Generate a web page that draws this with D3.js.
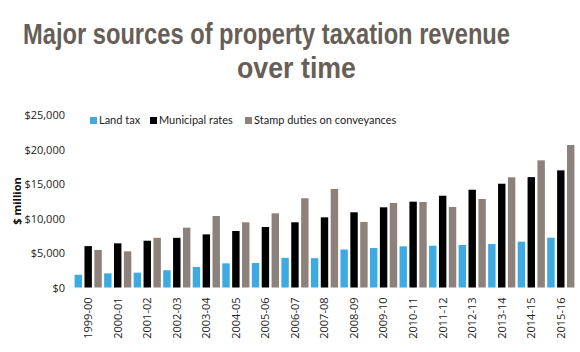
<!DOCTYPE html>
<html>
<head>
<meta charset="utf-8">
<script src="https://cdn.jsdelivr.net/npm/d3@7"></script>
<style>
  body { margin: 0; background: #fff; }
  svg { display: block; }
</style>
</head>
<body>
<div class="chart-container"></div>
<script>
// data ($ million)
const years = ["1999-00", "2000-01", "2001-02", "2002-03", "2003-04", "2004-05", "2005-06", "2006-07", "2007-08",
    "2008-09", "2009-10", "2010-11", "2011-12", "2012-13", "2013-14", "2014-15", "2015-16"];
const seriesNames = ["Land tax", "Municipal rates", "Stamp duties on conveyances"];
const landTax = [1850, 2050, 2150, 2500, 2970, 3500, 3550, 4300, 4250, 5500, 5720, 5970, 6060, 6160, 6300, 6640, 7220];
const municipalRates = [6000, 6400, 6780, 7200, 7700, 8190, 8770, 9450, 10170, 10900, 11620, 12440, 13300, 14170, 15040, 16000, 16980];
const stampDuties = [5430, 5240, 7200, 8670, 10360, 9450, 10750, 12930, 14280, 9500, 12250, 12390, 11670, 12830, 15970, 18430, 20650];
const yTicks = [0, 5000, 10000, 15000, 20000, 25000];

const seriesValues = [landTax, municipalRates, stampDuties];
const colors = ["#3eaae2", "#000000", "#8d827b"];

const width = 580;
const height = 352;
const margin = {top: 115, right: 5, bottom: 64, left: 74};

const svg = d3.select(".chart-container").append("svg")
    .attr("width", width)
    .attr("height", height)
    .attr("viewBox", [0, 0, width, height]);

// title: no condensed face installed, so a tall-scaled bold face stands in
const titleLines = [
    {text: "Major sources of property taxation revenue", x: 23, y: 44, w: 487},
    {text: "over time", x: 237, y: 78, w: 119}
];
svg.append("g")
    .selectAll("text")
    .data(titleLines)
    .join("text")
    .attr("transform", d => `translate(${d.x},${d.y}) scale(1,1.25)`)
    .attr("textLength", d => d.w)
    .attr("lengthAdjust", "spacingAndGlyphs")
    .attr("fill", "#675e58")
    .style("font-family", "'Liberation Sans', Arial, sans-serif")
    .style("font-weight", "bold")
    .style("font-size", "24px")
    .text(d => d.text);

const x = d3.scaleBand()
    .domain(years)
    .range([margin.left, width - margin.right])
    .paddingInner(0.08)
    .paddingOuter(0.02);

const xInner = d3.scaleBand()
    .domain(seriesNames)
    .range([0, x.bandwidth()])
    .paddingInner(0.25);

const y = d3.scaleLinear()
    .domain([0, 25000])
    .range([height - margin.bottom - 0.5, margin.top]);

const fmt = d3.format(",");

// y axis
const yAxis = svg.append("g")
    .attr("transform", `translate(${margin.left - 9},0)`)
    .call(d3.axisLeft(y).tickValues(yTicks).tickSize(0).tickPadding(0).tickFormat(d => "$" + fmt(d)));
yAxis.select(".domain").remove();
yAxis.selectAll("text")
    .attr("fill", "#222")
    .style("font-family", "'Open Sans', sans-serif")
    .style("font-size", "11px");

svg.append("text")
    .attr("transform", `translate(21,201) rotate(-90)`)
    .attr("text-anchor", "middle")
    .attr("fill", "#111")
    .style("font-family", "'Open Sans', sans-serif")
    .style("font-weight", "bold")
    .style("font-size", "11px")
    .text("$ million");

// x axis
const xAxis = svg.append("g")
    .attr("transform", `translate(0,${y(0)})`)
    .call(d3.axisBottom(x).tickSize(0).tickPadding(0));
xAxis.select(".domain").remove();
xAxis.selectAll("text")
    .attr("transform", "rotate(-90)")
    .attr("text-anchor", "end")
    .attr("dy", "0.35em")
    .attr("x", -10)
    .attr("y", 0)
    .attr("fill", "#222")
    .style("font-family", "'Open Sans', sans-serif")
    .style("font-size", "11px");

// bars
const group = svg.append("g").selectAll("g")
    .data(years)
    .join("g")
    .attr("transform", d => `translate(${x(d)},0)`);

group.selectAll("rect")
    .data((d, i) => seriesNames.map((s, k) => ({series: s, k: k, value: seriesValues[k][i]})))
    .join("rect")
    .attr("x", d => xInner(d.series))
    .attr("width", xInner.bandwidth())
    .attr("y", d => y(d.value))
    .attr("height", d => y(0) - y(d.value))
    .attr("fill", d => colors[d.k]);

// legend
const legendX = [90, 150, 245];
const legend = svg.append("g").selectAll("g")
    .data(seriesNames)
    .join("g")
    .attr("transform", (d, i) => `translate(${legendX[i]},117)`);

legend.append("rect")
    .attr("width", 7)
    .attr("height", 7)
    .attr("fill", (d, i) => colors[i]);

legend.append("text")
    .attr("x", 9)
    .attr("y", 3.5)
    .attr("dy", "0.35em")
    .attr("fill", "#222")
    .style("font-family", "Lato, sans-serif")
    .style("font-size", "11px")
    .text(d => d);
</script>
</body>
</html>
